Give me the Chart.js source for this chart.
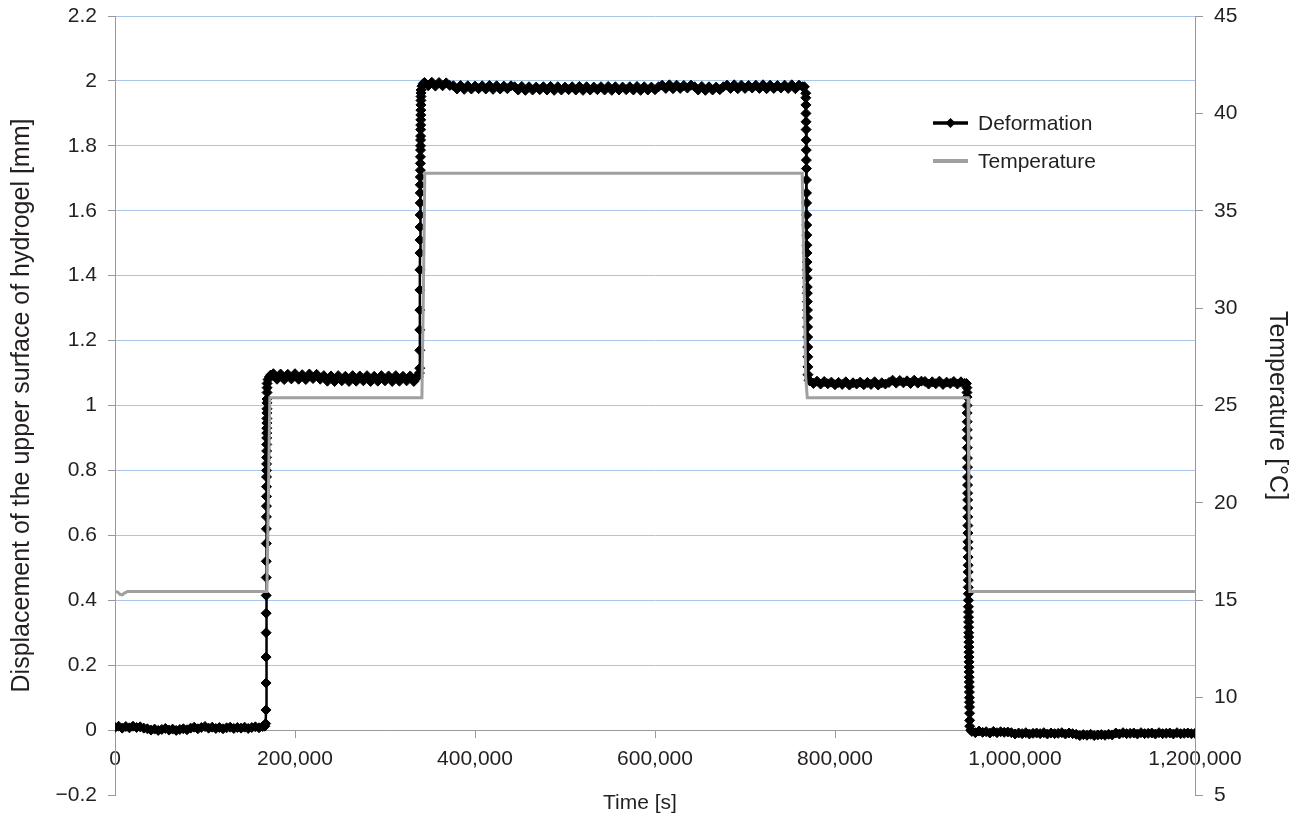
<!DOCTYPE html>
<html><head><meta charset="utf-8">
<script src="https://cdn.jsdelivr.net/npm/chart.js@4.4.1/dist/chart.umd.min.js"></script>
<style>html,body{margin:0;padding:0;background:#fff}canvas{display:block}</style>
</head><body>
<canvas id="c" width="1297" height="818"></canvas>
<script>
// ---------------- DATA ----------------
const sampleStep = 4000; // s between plotted samples on the plateaus

// Deformation [mm] plateaus (values at sampleStep spacing from the given start time)
const plateauAStart = 0;
const plateauA = [0.008,0.012,0.006,0.011,0.007,0.012,0.008,0.010,0.006,
  0.004,0.000,0.003,-0.001,0.002,0.005,0.000,0.003,-0.001,0.002,0.004,0.001,
  0.006,0.009,0.004,0.008,0.011,0.006,0.009,0.005,0.008,0.004,0.007,0.009,0.005,0.008,0.006,0.009,0.005,0.008,0.010,0.007,0.011];
const rise1Time = [166500,167400,
  167800,167840,167880,167920,167960,168000,168040,168080,168120,168160,168200,168240,168280,168320,168360,168400,
  168440,168480,168520,168560,168600,168640,168680,168720,168760,168800,168840,168880,168920,168960,169000,169040,
  170000,171500,173000];
const rise1Value = [0.012,0.02,
  0.062,0.145,0.225,0.30,0.36,0.415,0.47,0.52,0.575,0.62,0.657,0.69,0.72,0.75,0.78,0.80,
  0.82,0.84,0.86,0.88,0.90,0.915,0.93,0.946,0.96,0.977,0.99,1.008,1.02,1.04,1.055,1.068,
  1.08,1.088,1.094];
const plateauBStart = 176000;
const plateauB = [1.098,1.081,1.097,1.080,1.096,1.082,1.098,1.081,1.095,1.080,1.097,1.083,1.096,1.081,
  1.092,1.075,1.091,1.074,1.092,1.076,1.090,1.074,1.092,1.075,1.091,1.076,1.092,1.074,1.090,1.075,1.092,1.076,1.091,1.074,1.092,1.075,1.090,1.076,1.091,1.074,1.090];
const rise2Time = [336800,338200,
  338600,338650,338700,338750,338800,338850,338900,338950,339000,339050,339100,339150,339200,339250,339300,339350,
  339400,339450,339500,339550,339600,339650,339700,339750,339800,339850,339900,339950,340000,340050,340100,
  341000,342500];
const rise2Value = [1.09,1.10,
  1.115,1.17,1.233,1.294,1.356,1.418,1.47,1.51,1.55,1.587,1.624,1.655,1.68,1.704,1.725,1.746,
  1.766,1.787,1.80,1.818,1.83,1.85,1.864,1.88,1.895,1.91,1.926,1.94,1.952,1.963,1.972,
  1.984,1.992];
const plateauCStart = 344000;
const plateauC = [1.995,1.985,1.996,1.984,1.995,1.985,1.994,1.986,
  1.985,1.975,1.986,1.974,1.985,1.975,1.984,1.976,1.985,1.975,1.986,1.974,1.985,1.975,1.984,1.976,1.985,
  1.982,1.972,1.983,1.971,1.982,1.972,1.981,1.973,1.982,1.972,
  1.983,1.971,1.982,1.972,1.981,1.973,1.982,1.972,1.983,1.971,
  1.982,1.972,1.981,1.973,1.982,1.972,1.983,1.971,1.982,1.972,
  1.981,1.973,1.982,1.972,1.983,1.971,1.982,1.972,1.981,1.973,
  1.982,
  1.987,1.977,1.988,1.976,1.987,1.977,1.986,1.978,1.987,
  1.982,1.972,1.983,1.971,1.982,1.972,1.981,1.973,1.982,
  1.987,1.977,1.988,1.976,1.987,1.977,1.986,1.978,1.987,1.977,
  1.988,1.976,1.987,1.977,1.986,1.978,1.987,1.977,1.988,1.976,
  1.987,1.982];
const drop1Time = [766000,
  767500,767580,767660,767740,767820,767900,767980,768060,768140,768220,768300,768380,768460,768540,768620,768700,
  768780,768860,768940,769020,769100,769180,769260,769340,769420,769500,769580,769660,769740,769820,769900,769980,
  771000];
const drop1Value = [1.982,
  1.962,1.948,1.926,1.90,1.874,1.85,1.818,1.787,1.756,1.73,1.695,1.655,1.624,1.587,1.556,1.525,
  1.494,1.47,1.442,1.418,1.393,1.365,1.346,1.32,1.294,1.27,1.242,1.211,1.18,1.15,1.119,1.095,
  1.078];
const plateauDStart = 772000;
const plateauD = [1.076,1.068,1.075,1.066,1.074,1.067,
  1.072,1.064,1.071,1.065,1.073,1.063,1.070,1.066,1.072,1.064,1.071,1.065,1.073,1.063,1.070,1.066,1.071,
  1.078,1.069,1.077,1.070,1.076,1.068,1.078,1.069,1.075,
  1.074,1.066,1.073,1.067,1.075,1.065,1.072,1.068,1.074,1.066,1.073,1.068];
const drop2Time = [946000,
  946600,946660,946720,946780,946840,946900,946960,947020,947080,947140,
  947200,947260,947320,947380,947440,947500,947560,947620,947680,947740,
  947800,947860,947920,947980,948040,948100,948160,948220,948280,948340,
  948400,948460,948520,948580,948640,948700,948760,948820,948880,948940,
  949000,949060,949120,949180,949240,949300,949360,949420,949480,949540,
  949600,949660,
  950800];
const drop2Value = [1.068,
  1.055,1.04,1.026,1.0,0.977,0.95,0.925,0.90,0.87,0.838,
  0.81,0.78,0.755,0.73,0.709,0.684,0.657,0.63,0.607,0.58,
  0.56,0.533,0.508,0.487,0.462,0.44,0.42,0.40,0.38,0.364,
  0.348,0.333,0.317,0.30,0.287,0.271,0.256,0.24,0.225,0.21,
  0.194,0.179,0.163,0.148,0.133,0.117,0.10,0.086,0.071,0.052,
  0.03,0.012,
  0.0];
const plateauEStart = 952000;
const plateauE = [-0.004,-0.008,-0.003,-0.007,-0.005,-0.009,-0.004,-0.008,-0.005,-0.007,-0.006,
  -0.008,-0.012,-0.009,-0.011,-0.008,-0.012,-0.010,-0.009,-0.011,-0.008,-0.012,-0.009,-0.011,-0.010,-0.008,-0.012,-0.009,-0.011,
  -0.013,-0.017,-0.014,-0.016,-0.013,-0.017,-0.015,-0.014,-0.016,-0.013,-0.015,
  -0.009,-0.012,-0.008,-0.011,-0.010,-0.009,-0.012,-0.008,-0.011,-0.010,-0.009,-0.012,-0.008,-0.011,-0.010,-0.009,-0.012,-0.008,-0.011,-0.010,-0.009,-0.011,-0.010];

// Temperature [°C]
const temperatureTime  = [0,3000,5500,8000,11000,14000,168800,170500,172000,341000,342700,344200,763600,767400,769200,947800,948800,949800,1200000];
const temperatureValue = [15.45,15.42,15.3,15.28,15.38,15.45,15.45,20.5,25.4,25.4,31.0,36.92,36.92,26.5,25.4,25.4,20.5,15.45,15.45];

// Axis ticks and labels
const xTicks = [0,200000,400000,600000,800000,1000000,1200000];
const xTickLabels = ['0','200,000','400,000','600,000','800,000','1,000,000','1,200,000'];
const leftTicks = [-0.2,0,0.2,0.4,0.6,0.8,1.0,1.2,1.4,1.6,1.8,2.0,2.2];
const leftTickLabels = ['\u22120.2','0','0.2','0.4','0.6','0.8','1','1.2','1.4','1.6','1.8','2','2.2'];
const rightTicks = [5,10,15,20,25,30,35,40,45];
const rightTickLabels = ['5','10','15','20','25','30','35','40','45'];
const seriesLabels = ['Deformation','Temperature'];
const axisTitles = {x:'Time [s]', left:'Displacement of the upper surface of hydrogel [mm]', right:'Temperature [\u00b0C]'};

// ---------------- BUILD POINTS ----------------
function addSampled(pts, start, vals){ vals.forEach((v,i)=>pts.push({x:start+i*sampleStep,y:v})); }
function addPaired(pts, times, vals){ const n=Math.min(times.length,vals.length); for(let i=0;i<n;i++) pts.push({x:times[i],y:vals[i]}); }
const deformationPoints = [];
addSampled(deformationPoints, plateauAStart, plateauA);
addPaired(deformationPoints, rise1Time, rise1Value);
addSampled(deformationPoints, plateauBStart, plateauB);
addPaired(deformationPoints, rise2Time, rise2Value);
addSampled(deformationPoints, plateauCStart, plateauC);
addPaired(deformationPoints, drop1Time, drop1Value);
addSampled(deformationPoints, plateauDStart, plateauD);
addPaired(deformationPoints, drop2Time, drop2Value);
addSampled(deformationPoints, plateauEStart, plateauE);
const temperaturePoints = [];
addPaired(temperaturePoints, temperatureTime, temperatureValue);

// ---------------- STYLE ----------------
const FONT = "'Liberation Sans', Arial, Helvetica, sans-serif";
const TXT = '#231f20';
const AXIS = '#999999';
const GRID = '#a9c5e8';
const fnt = {family: FONT, size: 21};
const titleFnt = {family: FONT, size: 25};

function labelFor(ticks, labels){ return v => { for(let i=0;i<ticks.length;i++){ if(Math.abs(ticks[i]-v)<1e-9) return labels[i]; } return ''; }; }
function setTicks(ticks){ return s => { s.ticks = ticks.map(v=>({value:v})); }; }

const legendPlugin = {
  id: 'insideLegend',
  afterDraw(chart){
    const ctx = chart.ctx;
    const rows = [123, 161];
    const x0 = 933, x1 = 968, tx = 978;
    ctx.save();
    chart.data.datasets.forEach((ds, i) => {
      const y = rows[i];
      ctx.strokeStyle = ds.borderColor;
      ctx.lineWidth = i === 0 ? 3.5 : 4;
      ctx.beginPath(); ctx.moveTo(x0, y); ctx.lineTo(x1, y); ctx.stroke();
      if (ds.pointRadius > 0) {
        const r = 5, cx = (x0 + x1) / 2;
        ctx.fillStyle = ds.pointBackgroundColor;
        ctx.beginPath(); ctx.moveTo(cx - r, y); ctx.lineTo(cx, y - r); ctx.lineTo(cx + r, y); ctx.lineTo(cx, y + r); ctx.closePath(); ctx.fill();
      }
      ctx.fillStyle = TXT;
      ctx.font = '21px ' + FONT;
      ctx.textAlign = 'left'; ctx.textBaseline = 'middle';
      ctx.fillText(ds.label, tx, y + 1);
    });
    ctx.restore();
  },
  afterLayout(chart){
    const s = chart.scales.x2;
    if (s) { s.left -= 15; s.right -= 15; }
  }
};

function fitVertical(width){ return s => { s.width = width; s.paddingTop = 0; s.paddingBottom = 0; }; }

new Chart(document.getElementById('c'), {
  type: 'line',
  data: {
    datasets: [
      { label: seriesLabels[0], data: deformationPoints, yAxisID: 'y', xAxisID: 'x',
        borderColor: '#000000', backgroundColor: '#000000', borderWidth: 2.5,
        pointStyle: 'rectRot', pointRadius: 5, pointBorderWidth: 1,
        pointBackgroundColor: '#000000', pointBorderColor: '#000000', tension: 0, order: 1 },
      { label: seriesLabels[1], data: temperaturePoints, yAxisID: 'y2', xAxisID: 'x',
        borderColor: '#a0a0a0', backgroundColor: '#a0a0a0', borderWidth: 3,
        pointRadius: 0, tension: 0, order: 0 }
    ]
  },
  options: {
    responsive: false, animation: false, devicePixelRatio: 1,
    layout: { padding: { left: 3, right: 1, top: 16, bottom: 0 } },
    plugins: { legend: { display: false }, tooltip: { enabled: false } },
    scales: {
      x: {
        type: 'linear', position: { y: 0 }, min: 0, max: 1200000,
        afterBuildTicks: setTicks(xTicks),
        ticks: { callback: labelFor(xTicks, xTickLabels), font: fnt, color: TXT, padding: 10, maxRotation: 0, autoSkip: false },
        grid: { drawOnChartArea: false, drawTicks: true, tickLength: 7, tickColor: AXIS, color: AXIS },
        border: { display: true, color: AXIS, width: 1 }
      },
      x2: {
        type: 'linear', axis: 'x', position: 'bottom', min: 0, max: 1200000,
        ticks: { display: false }, grid: { display: false }, border: { display: false },
        title: { display: true, text: axisTitles.x, font: fnt, color: TXT, padding: { top: 0, bottom: 2 } },
        afterFit: s => { s.height = 23; }
      },
      y: {
        type: 'linear', position: 'left', min: -0.2, max: 2.2,
        afterBuildTicks: setTicks(leftTicks),
        ticks: { callback: labelFor(leftTicks, leftTickLabels), font: fnt, color: TXT, padding: 11 },
        grid: { color: c => (c.tick && (Math.abs(c.tick.value + 0.2) < 1e-9 || Math.abs(c.tick.value) < 1e-9)) ? 'rgba(0,0,0,0)' : GRID,
                tickColor: AXIS, tickLength: 7, lineWidth: 1 },
        border: { display: true, color: AXIS, width: 1 },
        title: { display: true, text: axisTitles.left, font: titleFnt, color: TXT },
        afterFit: fitVertical(112)
      },
      y2: {
        type: 'linear', position: 'right', min: 5, max: 45,
        afterBuildTicks: setTicks(rightTicks),
        ticks: { callback: labelFor(rightTicks, rightTickLabels), font: fnt, color: TXT, padding: 11 },
        grid: { drawOnChartArea: false, tickColor: AXIS, tickLength: 8, color: AXIS },
        border: { display: true, color: AXIS, width: 1 },
        title: { display: true, text: axisTitles.right, font: titleFnt, color: TXT },
        afterFit: fitVertical(101)
      }
    }
  },
  plugins: [legendPlugin]
});
</script>
</body></html>
